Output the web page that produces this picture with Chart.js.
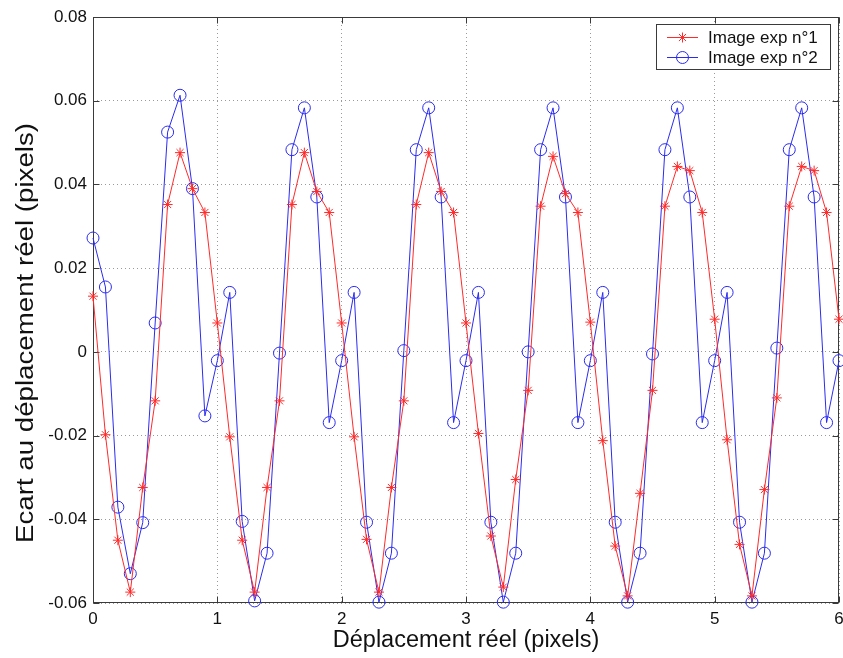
<!DOCTYPE html>
<html>
<head>
<meta charset="utf-8">
<title>Ecart au déplacement réel</title>
<script src="https://cdn.jsdelivr.net/npm/chart.js@4/dist/chart.umd.min.js"></script>
<style>
    html, body { margin: 0; padding: 0; background: #fff; }
    #wrap { width: 843px; height: 658px; position: relative; }
</style>
</head>
<body>
<div id="wrap"><canvas id="ecartChart"></canvas></div>
<script>
// Ecart au deplacement reel - images exp n°1 / n°2

const deplacement = [
    0, 0.1, 0.2, 0.3, 0.4, 0.5, 0.6, 0.7, 0.8, 0.9,
    1, 1.1, 1.2, 1.3, 1.4, 1.5, 1.6, 1.7, 1.8, 1.9,
    2, 2.1, 2.2, 2.3, 2.4, 2.5, 2.6, 2.7, 2.8, 2.9,
    3, 3.1, 3.2, 3.3, 3.4, 3.5, 3.6, 3.7, 3.8, 3.9,
    4, 4.1, 4.2, 4.3, 4.4, 4.5, 4.6, 4.7, 4.8, 4.9,
    5, 5.1, 5.2, 5.3, 5.4, 5.5, 5.6, 5.7, 5.8, 5.9,
    6
];

const ecartExp1 = [
    0.0133, -0.0198, -0.0450, -0.0574, -0.0324, -0.0117, 0.0352, 0.0476, 0.0390, 0.0333,
    0.0069, -0.0203, -0.0450, -0.0574, -0.0324, -0.0117, 0.0352, 0.0476, 0.0383, 0.0333,
    0.0069, -0.0203, -0.0448, -0.0574, -0.0324, -0.0117, 0.0352, 0.0476, 0.0383, 0.0333,
    0.0069, -0.0195, -0.0440, -0.0562, -0.0305, -0.0092, 0.0348, 0.0467, 0.0378, 0.0333,
    0.0071, -0.0212, -0.0464, -0.0583, -0.0338, -0.0092, 0.0348, 0.0443, 0.0433, 0.0333,
    0.0078, -0.0210, -0.0460, -0.0583, -0.0329, -0.0110, 0.0348, 0.0443, 0.0433, 0.0333,
    0.0078
];

const ecartExp2 = [
    0.0272, 0.0155, -0.0371, -0.0530, -0.0408, 0.0069, 0.0525, 0.0613, 0.0390, -0.0153,
    -0.0021, 0.0142, -0.0405, -0.0595, -0.0481, -0.0003, 0.0483, 0.0583, 0.0370, -0.0169,
    -0.0021, 0.0142, -0.0407, -0.0598, -0.0481, 0.0003, 0.0483, 0.0583, 0.0370, -0.0169,
    -0.0021, 0.0142, -0.0407, -0.0598, -0.0481, 0.0000, 0.0483, 0.0583, 0.0370, -0.0169,
    -0.0021, 0.0142, -0.0407, -0.0598, -0.0481, -0.0005, 0.0483, 0.0583, 0.0370, -0.0169,
    -0.0021, 0.0142, -0.0407, -0.0598, -0.0481, 0.0009, 0.0483, 0.0583, 0.0370, -0.0169,
    -0.0021
];

const xTicks = [0, 1, 2, 3, 4, 5, 6];
const yTicks = [-0.06, -0.04, -0.02, 0, 0.02, 0.04, 0.06, 0.08];

const seriesLabels = ['Image exp n°1', 'Image exp n°2'];
const xTitle = 'Déplacement réel (pixels)';
const yTitle = 'Ecart au déplacement réel (pixels)';

const FONT = '"Liberation Sans", Arial, Helvetica, sans-serif';
const RED = '#ff2a2a';
const BLUE = '#2b2bf0';

function toPoints(xs, ys) {
    return xs.map((x, i) => ({ x: x, y: ys[i] }));
}

function formatTick(v) {
    if (Math.abs(v) < 1e-9) return '0';
    return Number.isInteger(v) ? String(v) : v.toFixed(2);
}

// no extra padding for edge labels, the plot box is fixed
function noEdgePadding(s) {
    s.paddingLeft = 0;
    s.paddingRight = 0;
    s.paddingTop = 0;
    s.paddingBottom = 0;
}

// Matlab-like axes box with inward tick marks
const axesBoxPlugin = {
    id: 'axesBox',
    beforeDatasetsDraw(chart) {
        const { ctx, chartArea: a, scales } = chart;
        const l = Math.round(a.left) + 0.5, r = Math.round(a.right) - 0.5;
        const t = Math.round(a.top) + 0.5, b = Math.round(a.bottom) - 0.5;
        ctx.save();
        ctx.strokeStyle = '#3a3a3a';
        ctx.lineWidth = 1;
        ctx.strokeRect(l, t, r - l, b - t);
        ctx.beginPath();
        xTicks.forEach(v => {
            const px = Math.round(scales.x.getPixelForValue(v)) + 0.5;
            ctx.moveTo(px, b); ctx.lineTo(px, b - 6);
            ctx.moveTo(px, t); ctx.lineTo(px, t + 6);
        });
        yTicks.forEach(v => {
            const py = Math.round(scales.y.getPixelForValue(v)) + 0.5;
            ctx.moveTo(l, py); ctx.lineTo(l + 6, py);
            ctx.moveTo(r, py); ctx.lineTo(r - 6, py);
        });
        ctx.stroke();
        ctx.restore();
    }
};

// Rotated y title (slightly stretched like the original figure)
const yTitlePlugin = {
    id: 'yTitle',
    afterDraw(chart) {
        const ctx = chart.ctx;
        ctx.save();
        ctx.font = '23px ' + FONT;
        const w = ctx.measureText(yTitle).width;
        ctx.translate(33, 543);
        ctx.rotate(-Math.PI / 2);
        ctx.scale(420 / w, 1);
        ctx.fillStyle = '#111';
        ctx.textAlign = 'left';
        ctx.textBaseline = 'alphabetic';
        ctx.fillText(yTitle, 0, 0);
        ctx.restore();
    }
};

function drawMarker(ctx, style, x, y, r) {
    ctx.beginPath();
    if (style === 'star') {
        const d = r * Math.SQRT1_2;
        ctx.moveTo(x - r, y); ctx.lineTo(x + r, y);
        ctx.moveTo(x, y - r); ctx.lineTo(x, y + r);
        ctx.moveTo(x - d, y - d); ctx.lineTo(x + d, y + d);
        ctx.moveTo(x - d, y + d); ctx.lineTo(x + d, y - d);
    } else {
        ctx.arc(x, y, r, 0, Math.PI * 2);
    }
    ctx.stroke();
}

// Legend box in the upper right corner
const boxLegendPlugin = {
    id: 'boxLegend',
    afterDraw(chart) {
        const ctx = chart.ctx;
        const box = { x: 656.5, y: 24.5, w: 174, h: 45 };
        ctx.save();
        ctx.fillStyle = '#fff';
        ctx.fillRect(box.x, box.y, box.w, box.h);
        ctx.strokeStyle = '#3a3a3a';
        ctx.lineWidth = 1;
        ctx.strokeRect(box.x, box.y, box.w, box.h);
        ctx.font = '17px ' + FONT;
        ctx.textBaseline = 'middle';
        chart.data.datasets.forEach((ds, i) => {
            const cy = box.y + 13 + i * 20;
            ctx.strokeStyle = ds.borderColor;
            ctx.lineWidth = 1;
            ctx.beginPath();
            ctx.moveTo(667, cy); ctx.lineTo(698, cy);
            ctx.stroke();
            drawMarker(ctx, ds.pointStyle, 682.5, cy, ds.pointRadius);
            ctx.fillStyle = '#111';
            ctx.fillText(ds.label, 708, cy + 1);
        });
        ctx.restore();
    }
};

const ctx = document.getElementById('ecartChart');
new Chart(ctx, {
    type: 'scatter',
    data: {
        datasets: [
            {
                label: seriesLabels[0],
                data: toPoints(deplacement, ecartExp1),
                showLine: true,
                borderColor: RED,
                borderWidth: 1,
                pointStyle: 'star',
                pointRadius: 5,
                pointBorderWidth: 1,
                pointBorderColor: RED,
                pointBackgroundColor: 'rgba(0,0,0,0)',
                clip: false
            },
            {
                label: seriesLabels[1],
                data: toPoints(deplacement, ecartExp2),
                showLine: true,
                borderColor: BLUE,
                borderWidth: 1,
                pointStyle: 'circle',
                pointRadius: 6,
                pointBorderWidth: 1,
                pointBorderColor: BLUE,
                pointBackgroundColor: 'rgba(0,0,0,0)',
                clip: false
            }
        ]
    },
    options: {
        responsive: true,
        maintainAspectRatio: false,
        animation: false,
        devicePixelRatio: 1,
        layout: {
            autoPadding: false,
            padding: { left: 0, right: 4, top: 17, bottom: 0 }
        },
        plugins: {
            legend: { display: false },
            tooltip: { enabled: false }
        },
        scales: {
            x: {
                type: 'linear',
                min: 0,
                max: 6,
                afterBuildTicks: s => { s.ticks = xTicks.map(v => ({ value: v })); },
                afterFit: s => { s.height = 55; noEdgePadding(s); },
                ticks: {
                    font: { family: FONT, size: 17 },
                    color: '#111',
                    padding: 6,
                    maxRotation: 0,
                    callback: formatTick
                },
                grid: { color: '#9a9a9a', drawTicks: false },
                border: { display: false, dash: [1, 3] },
                title: {
                    display: true,
                    text: xTitle,
                    font: { family: FONT, size: 23.5 },
                    color: '#111',
                    padding: { top: 0, bottom: 3 }
                }
            },
            y: {
                type: 'linear',
                min: -0.06,
                max: 0.08,
                afterBuildTicks: s => { s.ticks = yTicks.map(v => ({ value: v })); },
                afterFit: s => { s.width = 93; noEdgePadding(s); },
                ticks: {
                    font: { family: FONT, size: 17 },
                    color: '#111',
                    padding: 6,
                    callback: formatTick
                },
                grid: { color: '#9a9a9a', drawTicks: false },
                border: { display: false, dash: [1, 3] }
            }
        }
    },
    plugins: [axesBoxPlugin, yTitlePlugin, boxLegendPlugin]
});
</script>
</body>
</html>
